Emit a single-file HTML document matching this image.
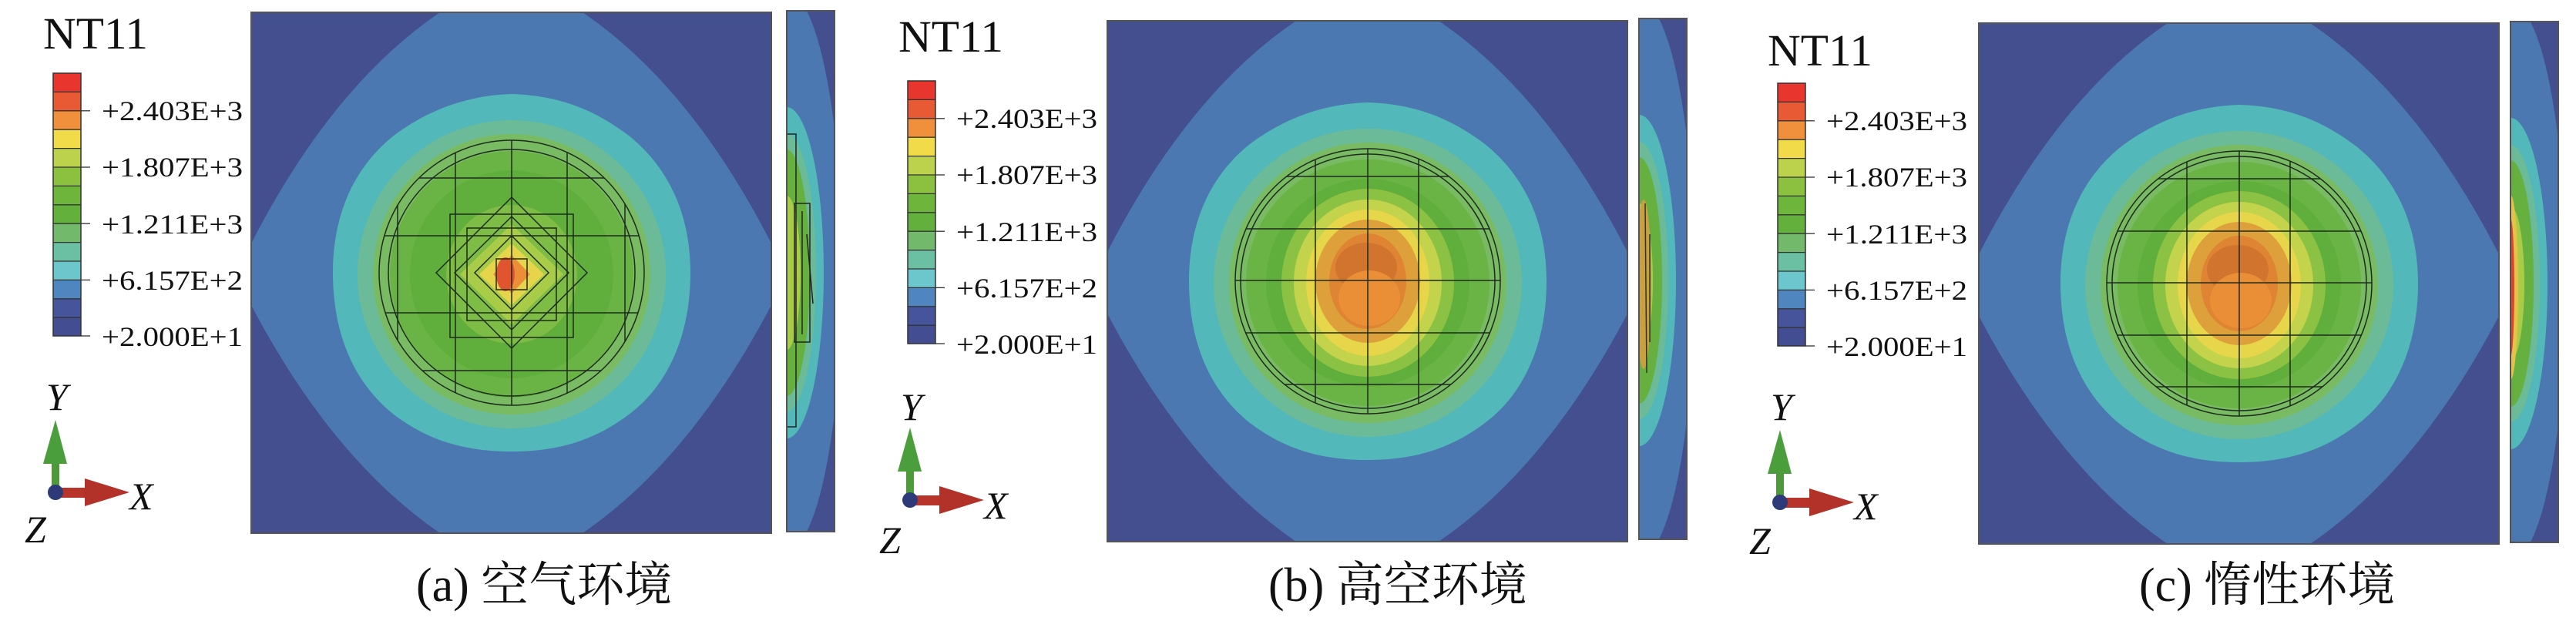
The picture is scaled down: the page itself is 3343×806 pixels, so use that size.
<!DOCTYPE html>
<html><head><meta charset="utf-8"><style>
html,body{margin:0;padding:0;background:#fff;}
svg{display:block;}
.lab{font-family:"Liberation Serif","DejaVu Serif",serif;font-size:36px;fill:#111;}
.nt{font-family:"Liberation Serif","DejaVu Serif",serif;font-size:58px;fill:#111;}
.ax{font-family:"Liberation Serif","DejaVu Serif",serif;font-style:italic;font-size:50px;fill:#111;}
.cap{font-family:"Liberation Serif","DejaVu Serif","Noto Serif CJK SC",serif;font-size:62px;fill:#111;}
</style></head><body>
<svg width="3343" height="806" viewBox="0 0 3343 806" xmlns="http://www.w3.org/2000/svg">
<defs>
<clipPath id="sq"><rect x="0" y="0" width="675" height="676"/></clipPath>
<clipPath id="st"><rect x="0" y="0" width="62" height="676"/></clipPath>
<clipPath id="circ"><circle cx="338" cy="338" r="172"/></clipPath>
<g id="legend">
  <rect x="69" y="95" width="36" height="24.4" fill="#e8352d"/>
  <rect x="69" y="119.4" width="36" height="24.4" fill="#e75a33"/>
  <rect x="69" y="143.8" width="36" height="24.4" fill="#f0903c"/>
  <rect x="69" y="168.2" width="36" height="24.4" fill="#f1db48"/>
  <rect x="69" y="192.6" width="36" height="24.4" fill="#bdd24c"/>
  <rect x="69" y="217" width="36" height="24.4" fill="#8cc03f"/>
  <rect x="69" y="241.4" width="36" height="24.4" fill="#6db63b"/>
  <rect x="69" y="265.8" width="36" height="24.4" fill="#63b03d"/>
  <rect x="69" y="290.2" width="36" height="24.4" fill="#72b96c"/>
  <rect x="69" y="314.6" width="36" height="24.4" fill="#6bbfa2"/>
  <rect x="69" y="339" width="36" height="24.4" fill="#6cc7cc"/>
  <rect x="69" y="363.4" width="36" height="24.4" fill="#4f86c0"/>
  <rect x="69" y="387.8" width="36" height="24.4" fill="#46549b"/>
  <rect x="69" y="412.2" width="36" height="24" fill="#434d91"/>
  <g stroke="#333" stroke-width="1.3">
   <line x1="69" x2="105" y1="119.4" y2="119.4"/><line x1="69" x2="105" y1="143.8" y2="143.8"/>
   <line x1="69" x2="105" y1="168.2" y2="168.2"/><line x1="69" x2="105" y1="192.6" y2="192.6"/>
   <line x1="69" x2="105" y1="217" y2="217"/><line x1="69" x2="105" y1="241.4" y2="241.4"/>
   <line x1="69" x2="105" y1="265.8" y2="265.8"/><line x1="69" x2="105" y1="290.2" y2="290.2"/>
   <line x1="69" x2="105" y1="314.6" y2="314.6"/><line x1="69" x2="105" y1="339" y2="339"/>
   <line x1="69" x2="105" y1="363.4" y2="363.4"/><line x1="69" x2="105" y1="387.8" y2="387.8"/>
   <line x1="69" x2="105" y1="412.2" y2="412.2"/>
   <line x1="105" x2="117" y1="143.8" y2="143.8"/><line x1="105" x2="117" y1="217" y2="217"/>
   <line x1="105" x2="117" y1="290.2" y2="290.2"/><line x1="105" x2="117" y1="363.4" y2="363.4"/>
   <line x1="105" x2="117" y1="436" y2="436"/>
  </g>
  <rect x="69" y="95" width="36" height="341" fill="none" stroke="#333" stroke-width="1.5"/>
  <rect x="67" y="600" width="10" height="36" fill="#4e9a3a"/>
  <polygon points="56,602 87,602 72,545" fill="#4a9e3c"/>
  <rect x="72" y="633" width="40" height="13" fill="#b8332a"/>
  <polygon points="110,621 110,657 168,639" fill="#b23128"/>
  <circle cx="72" cy="639" r="10" fill="#2d3a7a"/>
</g>
<g id="mainbase">
  <rect x="0" y="0" width="675" height="676" fill="#444f8f"/>
  <path d="M245,0 L430,0 Q570,95 675,300 L675,380 Q570,580 430,676 L245,676 Q105,580 0,380 L0,300 Q105,95 245,0 Z" fill="#4b78b1"/>
  <path d="M338,106 C405,108 450,130 490,160 C540,200 570,260 570,338 C570,420 540,485 490,522 C450,552 405,570 338,570 C270,570 225,552 185,522 C135,482 106,420 106,338 C106,260 135,200 185,160 C225,130 275,108 338,106 Z" fill="#52b8b9"/>
  <ellipse cx="338" cy="340" rx="200" ry="200" fill="#6cbb98"/>
  <ellipse cx="338" cy="340" rx="180" ry="182" fill="#79bb62"/>
  <ellipse cx="338" cy="340" rx="158" ry="160" fill="#6ab446"/>
  <ellipse cx="338" cy="340" rx="132" ry="135" fill="#60ae3c"/>
</g>
<g id="mainbc">
  <use href="#mainbase"/>
  <ellipse cx="338" cy="340" rx="112" ry="122" fill="#8cc243"/>
  <ellipse cx="338" cy="340" rx="96" ry="108" fill="#c3d34b"/>
  <ellipse cx="338" cy="340" rx="80" ry="95" fill="#e8d64a"/>
  <ellipse cx="338" cy="338" rx="68" ry="80" fill="#dda03b"/>
  <ellipse cx="338" cy="338" rx="50" ry="62" fill="#df8432"/>
  <ellipse cx="336" cy="320" rx="40" ry="32" fill="#d0742e"/>
  <ellipse cx="340" cy="360" rx="40" ry="36" fill="#ea8f36"/>
  <g stroke="#1e2a1e" stroke-width="1.5" fill="none">
    <g clip-path="url(#circ)">
      <line x1="270" y1="0" x2="270" y2="676"/><line x1="338" y1="0" x2="338" y2="676"/><line x1="404" y1="0" x2="404" y2="676"/>
      <line x1="0" y1="202" x2="675" y2="202"/><line x1="0" y1="270" x2="675" y2="270"/><line x1="0" y1="337" x2="675" y2="337"/>
      <line x1="0" y1="405" x2="675" y2="405"/><line x1="0" y1="472" x2="675" y2="472"/>
    </g>
    <circle cx="338" cy="338" r="172"/>
    <circle cx="338" cy="338" r="165"/>
  </g>
</g>
<g id="maina">
  <use href="#mainbase"/>
  <ellipse cx="338" cy="340" rx="85" ry="90" fill="#7dbc45"/>
  <polygon points="338,275 405,340 338,405 271,340" fill="#a8cc48"/>
  <polygon points="338,300 380,340 338,380 296,340" fill="#e6d54a"/>
  <polygon points="338,315 362,340 338,365 314,340" fill="#ec8e38"/>
  <ellipse cx="330" cy="340" rx="12" ry="22" fill="#e0552f"/>
  <g stroke="#1e2a1e" stroke-width="1.5" fill="none">
    <g clip-path="url(#circ)">
      <line x1="190" y1="0" x2="190" y2="676"/><line x1="265" y1="0" x2="265" y2="676"/><line x1="338" y1="0" x2="338" y2="676"/>
      <line x1="410" y1="0" x2="410" y2="676"/><line x1="485" y1="0" x2="485" y2="676"/>
      <line x1="0" y1="215" x2="675" y2="215"/><line x1="0" y1="290" x2="675" y2="290"/>
      <line x1="0" y1="390" x2="675" y2="390"/><line x1="0" y1="465" x2="675" y2="465"/>
    </g>
    <circle cx="338" cy="338" r="172"/>
    <circle cx="338" cy="338" r="160"/>
    <rect x="258" y="262" width="160" height="160"/>
    <rect x="280" y="280" width="116" height="120"/>
    <polygon points="338,240 436,338 338,436 240,338"/>
    <polygon points="338,265 412,338 338,412 264,338"/>
    <polygon points="338,290 386,338 338,386 290,338"/>
    <rect x="318" y="320" width="40" height="40"/>
  </g>
</g>
<g id="strip">
  <rect x="0" y="0" width="62" height="676" fill="#444f8f"/>
  <ellipse cx="0" cy="338" rx="72" ry="362" fill="#4b78b1"/>
  <ellipse cx="0" cy="340" rx="48" ry="215" fill="#52b8b9"/>
  <ellipse cx="0" cy="340" rx="38" ry="180" fill="#6cbb98"/>
  <ellipse cx="0" cy="340" rx="30" ry="160" fill="#66b040"/>
  <ellipse cx="0" cy="340" rx="18" ry="100" fill="#a8cc48"/>
</g>
</defs>

<!-- Panel a -->
<text class="nt" x="56" y="63" textLength="136" lengthAdjust="spacingAndGlyphs">NT11</text>
<use href="#legend"/>
<g class="lab"><text x="132" y="156" textLength="183" lengthAdjust="spacingAndGlyphs">+2.403E+3</text><text x="132" y="229" textLength="183" lengthAdjust="spacingAndGlyphs">+1.807E+3</text><text x="132" y="303" textLength="183" lengthAdjust="spacingAndGlyphs">+1.211E+3</text><text x="132" y="376" textLength="183" lengthAdjust="spacingAndGlyphs">+6.157E+2</text><text x="132" y="449" textLength="183" lengthAdjust="spacingAndGlyphs">+2.000E+1</text></g>
<g class="ax"><text x="60" y="532">Y</text><text x="168" y="661">X</text><text x="32" y="704">Z</text></g>
<g transform="translate(326,16)"><g clip-path="url(#sq)"><use href="#maina"/></g><rect x="0" y="0" width="675" height="676" fill="none" stroke="#555" stroke-width="2"/></g>
<g transform="translate(1021,14)"><g clip-path="url(#st)"><use href="#strip"/>
 <g stroke="#222" stroke-width="1.5" fill="none"><rect x="0" y="160" width="12" height="380"/><rect x="10" y="250" width="20" height="180"/><line x1="20" y1="260" x2="20" y2="420"/><line x1="26" y1="290" x2="34" y2="380"/></g></g>
 <rect x="0" y="0" width="62" height="676" fill="none" stroke="#555" stroke-width="2"/></g>
<text class="cap" x="540" y="780">(a) 空气环境</text>

<!-- Panel b -->
<text class="nt" x="1166" y="67" textLength="136" lengthAdjust="spacingAndGlyphs">NT11</text>
<g transform="translate(1109,10)"><use href="#legend"/>
<g class="lab"><text x="132" y="156" textLength="183" lengthAdjust="spacingAndGlyphs">+2.403E+3</text><text x="132" y="229" textLength="183" lengthAdjust="spacingAndGlyphs">+1.807E+3</text><text x="132" y="303" textLength="183" lengthAdjust="spacingAndGlyphs">+1.211E+3</text><text x="132" y="376" textLength="183" lengthAdjust="spacingAndGlyphs">+6.157E+2</text><text x="132" y="449" textLength="183" lengthAdjust="spacingAndGlyphs">+2.000E+1</text></g>
<g class="ax"><text x="60" y="535">Y</text><text x="168" y="663">X</text><text x="32" y="708">Z</text></g></g>
<g transform="translate(1437,27)"><g clip-path="url(#sq)"><use href="#mainbc"/></g><rect x="0" y="0" width="675" height="676" fill="none" stroke="#555" stroke-width="2"/></g>
<g transform="translate(2127,24)"><g clip-path="url(#st)"><use href="#strip"/>
 <ellipse cx="6" cy="345" rx="10" ry="110" fill="#c8a040"/><g stroke="#333" stroke-width="1.5" fill="none"><line x1="8" y1="240" x2="10" y2="460"/><line x1="14" y1="280" x2="14" y2="420"/></g></g>
 <rect x="0" y="0" width="62" height="676" fill="none" stroke="#555" stroke-width="2"/></g>
<text class="cap" x="1646" y="780">(b) 高空环境</text>

<!-- Panel c -->
<text class="nt" x="2294" y="85" textLength="136" lengthAdjust="spacingAndGlyphs">NT11</text>
<g transform="translate(2238,13)"><use href="#legend"/>
<g class="lab"><text x="132" y="156" textLength="183" lengthAdjust="spacingAndGlyphs">+2.403E+3</text><text x="132" y="229" textLength="183" lengthAdjust="spacingAndGlyphs">+1.807E+3</text><text x="132" y="303" textLength="183" lengthAdjust="spacingAndGlyphs">+1.211E+3</text><text x="132" y="376" textLength="183" lengthAdjust="spacingAndGlyphs">+6.157E+2</text><text x="132" y="449" textLength="183" lengthAdjust="spacingAndGlyphs">+2.000E+1</text></g>
<g class="ax"><text x="60" y="532">Y</text><text x="168" y="661">X</text><text x="32" y="706">Z</text></g></g>
<g transform="translate(2568,30)"><g clip-path="url(#sq)"><use href="#mainbc"/></g><rect x="0" y="0" width="675" height="676" fill="none" stroke="#555" stroke-width="2"/></g>
<g transform="translate(3258,28)"><g clip-path="url(#st)"><use href="#strip"/>
 <ellipse cx="0" cy="345" rx="10" ry="120" fill="#e6c248"/><ellipse cx="0" cy="345" rx="5" ry="90" fill="#e0452c"/></g>
 <rect x="0" y="0" width="62" height="676" fill="none" stroke="#555" stroke-width="2"/></g>
<text class="cap" x="2776" y="780">(c) 惰性环境</text>
</svg>
</body></html>
